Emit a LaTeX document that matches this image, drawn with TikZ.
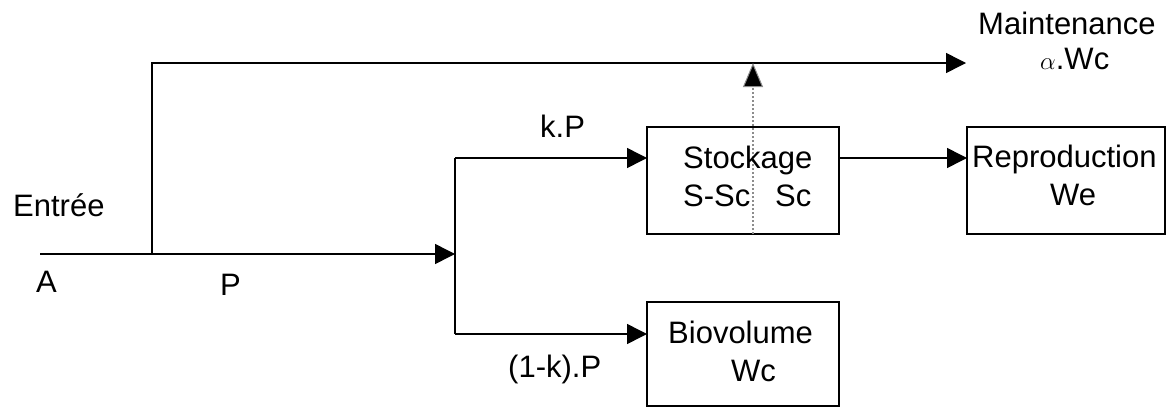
\documentclass[tikz,border=0pt]{standalone}
\usepackage{fontspec}
\setmainfont{Liberation Sans}
\usetikzlibrary{arrows.meta}
\begin{document}
\begin{tikzpicture}[x=1pt,y=-1pt,
  line/.style={line width=1.5pt},
  arr/.style={line, -{Triangle[length=20pt,width=20pt]}},
  box/.style={draw, line width=1.5pt, inner sep=0pt},
  txt/.style={inner sep=0pt, anchor=base west, font=\fontsize{31}{37}\selectfont}]
\useasboundingbox (0,0) rectangle (1166,407);
% boxes
\node[box, minimum width=192pt, minimum height=107pt] (stock) at (743,180.5) {};
\node[box, minimum width=198pt, minimum height=107pt] (repro) at (1066,180.5) {};
\node[box, minimum width=192pt, minimum height=104pt] (bio) at (743,354) {};
% coordinates
\coordinate (in) at (40,254);
\coordinate (j1) at (152,254);
\coordinate (j2) at (455,254);
\coordinate (maint) at (966,63);
\coordinate (stockin) at (647,158);
\coordinate (stockout) at (839,158);
\coordinate (reproin) at (967,158);
\coordinate (bioin) at (647,334);
\coordinate (dotbot) at (753,234);
\coordinate (dottop) at (753,63);
% connectors
\draw[arr] (in) -- (j2);
\draw[arr] (j1) |- (maint);
\draw[line] (j2 |- stockin) -- (j2 |- bioin);
\draw[arr] (j2 |- stockin) -- (stockin);
\draw[arr] (j2 |- bioin) -- (bioin);
\draw[arr] (stockout) -- (reproin);
\draw[black!45, line width=2.5pt, dash pattern=on 2pt off 2pt, -{Triangle[length=24pt,width=20pt,fill=black,line width=1pt]}] (dotbot) -- (dottop);
% texts
\node[txt] (entree) at (13,216) {Entrée};
\node[txt] (a) at (36,292) {A};
\node[txt] (p) at (220,295) {P};
\node[txt] (kp) at (540,137) {k.P};
\node[txt] (omkp) at (508,377) {(1-k).P};
\node[txt] (maintt) at (978,34) {Maintenance};
\node[txt] (awc) at (1040,69) {$\alpha$.Wc};
\node[txt] (stockt) at (683,168) {Stockage};
\node[txt] (ssc) at (683,206) {S-Sc};
\node[txt] (sc) at (775,206) {Sc};
\node[txt] (reprot) at (972,167) {Reproduction};
\node[txt] (we) at (1050,205) {We};
\node[txt] (biot) at (668,343) {Biovolume};
\node[txt] (wc) at (731,381) {Wc};
\end{tikzpicture}
\end{document}
